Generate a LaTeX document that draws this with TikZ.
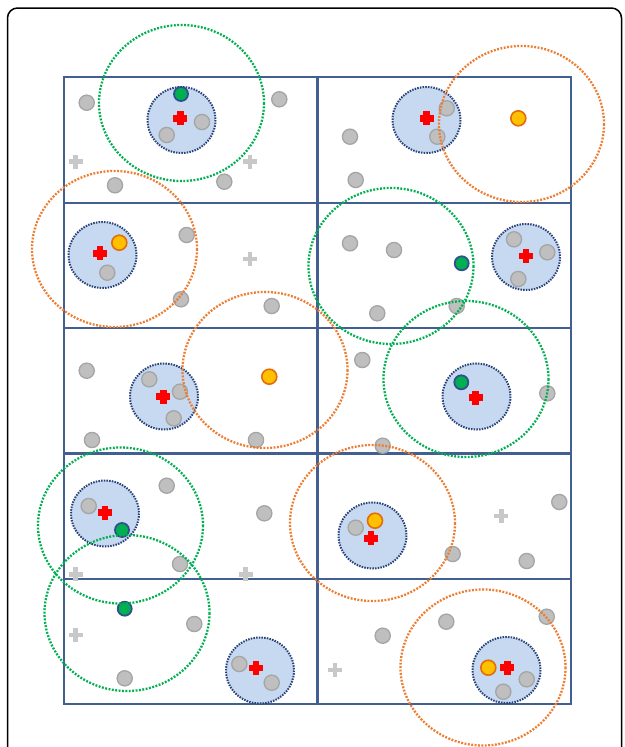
\documentclass[tikz,border=0pt]{standalone}

\definecolor{gridblue}{RGB}{65,95,145}
\definecolor{clusterfill}{RGB}{198,217,241}
\definecolor{clusterline}{RGB}{40,65,120}
\definecolor{ptgray}{RGB}{191,191,191}
\definecolor{ptedge}{RGB}{165,165,165}
\definecolor{crossgray}{RGB}{200,200,200}
\definecolor{ptgreen}{RGB}{0,176,80}
\definecolor{ptgreenedge}{RGB}{47,82,143}
\definecolor{ptorange}{RGB}{255,192,0}
\definecolor{ptorangeedge}{RGB}{228,108,10}
\definecolor{ringgreen}{RGB}{0,176,80}
\definecolor{ringorange}{RGB}{237,125,49}

\begin{document}
\begin{tikzpicture}[x=1pt,y=-1pt,
    ring/.style={line width=2.3pt, dash pattern=on 1.9pt off 1.5pt},
    cluster/.style={fill=clusterfill, draw=clusterline, line width=2pt, dash pattern=on 1.5pt off 1.2pt}]

\useasboundingbox (0,0) rectangle (624,747);

% outer frame (runs off the bottom)
\begin{scope}
\clip (0,0) rectangle (624,747);
\draw[black, line width=1.5pt, rounded corners=10pt] (7.5,8) rectangle (621.5,790);
\end{scope}

% grid cells
\foreach \c in {64,318}{
    \foreach \r in {77,202.5,328,453,578.5}{
        \draw[gridblue, line width=2pt] (\c,\r) rectangle ++(253,125.5);
    }
}

% blue cluster areas
\foreach \x/\y in {181.5/120, 426.5/120, 102.5/255, 526/257, 164/396.5,
                   476.5/396.5, 105/513.5, 372.5/535.5, 260/670.5, 506.5/670}{
    \filldraw[cluster] (\x,\y) ellipse (34 and 33);
}

% gray points
\foreach \x/\y in {86.7/102.7, 279.3/99.3, 115/185.3, 224.3/181.7, 202/122, 166.7/135,
                   446.7/108.3, 437.3/136.7, 350/136.7, 355.7/180,
                   107.3/272.7, 186.7/235, 181/299.3, 271.7/306,
                   514/239.3, 547.3/252.3, 518.3/279, 350/243.3, 394/250, 377.3/313.3, 456.7/306,
                   149.3/379.3, 180/391.7, 173.7/418.3, 86.7/370.7, 92/440, 256/440,
                   362.3/360, 547.3/393.3, 382.7/445.7,
                   88.7/506, 166.7/485.7, 264.3/513.3, 180/564,
                   194.3/624, 124.7/678.3, 239.3/664, 271.7/682.7,
                   355.7/527.7, 452.7/554, 526.7/561, 559.3/502,
                   382.7/635.7, 446.3/621.7, 546.7/616.7, 526.7/679.3, 503.3/691.7}{
    \filldraw[fill=ptgray, draw=ptedge, line width=1.3pt] (\x,\y) circle (7.6);
}

% gray crosses
\foreach \x/\y in {75.7/161.7, 250/161.7, 250/259, 75.7/574.3, 245.7/574.3,
                   75.7/635, 501.3/516, 335/670}{
    \fill[crossgray] (\x-7,\y-2.4) rectangle (\x+7,\y+2.4);
    \fill[crossgray] (\x-2.4,\y-7) rectangle (\x+2.4,\y+7);
}

% green points
\foreach \x/\y in {181/94, 461.7/263.3, 461.3/382.3, 122/530, 124.7/608.7}{
    \filldraw[fill=ptgreen, draw=ptgreenedge, line width=1.8pt] (\x,\y) circle (7);
}

% orange points
\foreach \x/\y in {518.3/118.3, 119.3/242.7, 269.3/376.7, 375/520.7, 488.3/667.7}{
    \filldraw[fill=ptorange, draw=ptorangeedge, line width=1.6pt] (\x,\y) circle (7.5);
}

% red crosses (cluster centres)
\foreach \x/\y in {180.3/118.3, 426.7/118.3, 100/253.3, 526/256, 163.3/396.7,
                   475.7/397.7, 105/512.7, 371/538.3, 256/668, 507.3/667.7}{
    \fill[red] (\x-7,\y-3.3) rectangle (\x+7,\y+3.3);
    \fill[red] (\x-3.3,\y-7) rectangle (\x+3.3,\y+7);
}

% green rings
\foreach \x/\y in {181.5/103, 391/266, 466/379, 120.5/525.5, 127/613}{
    \draw[ring, ringgreen] (\x,\y) ellipse (82.5 and 78);
}

% orange rings
\foreach \x/\y in {521.5/124, 114.5/249, 265/370, 372.5/523, 483/667.5}{
    \draw[ring, ringorange] (\x,\y) ellipse (82.5 and 78);
}

\end{tikzpicture}
\end{document}
